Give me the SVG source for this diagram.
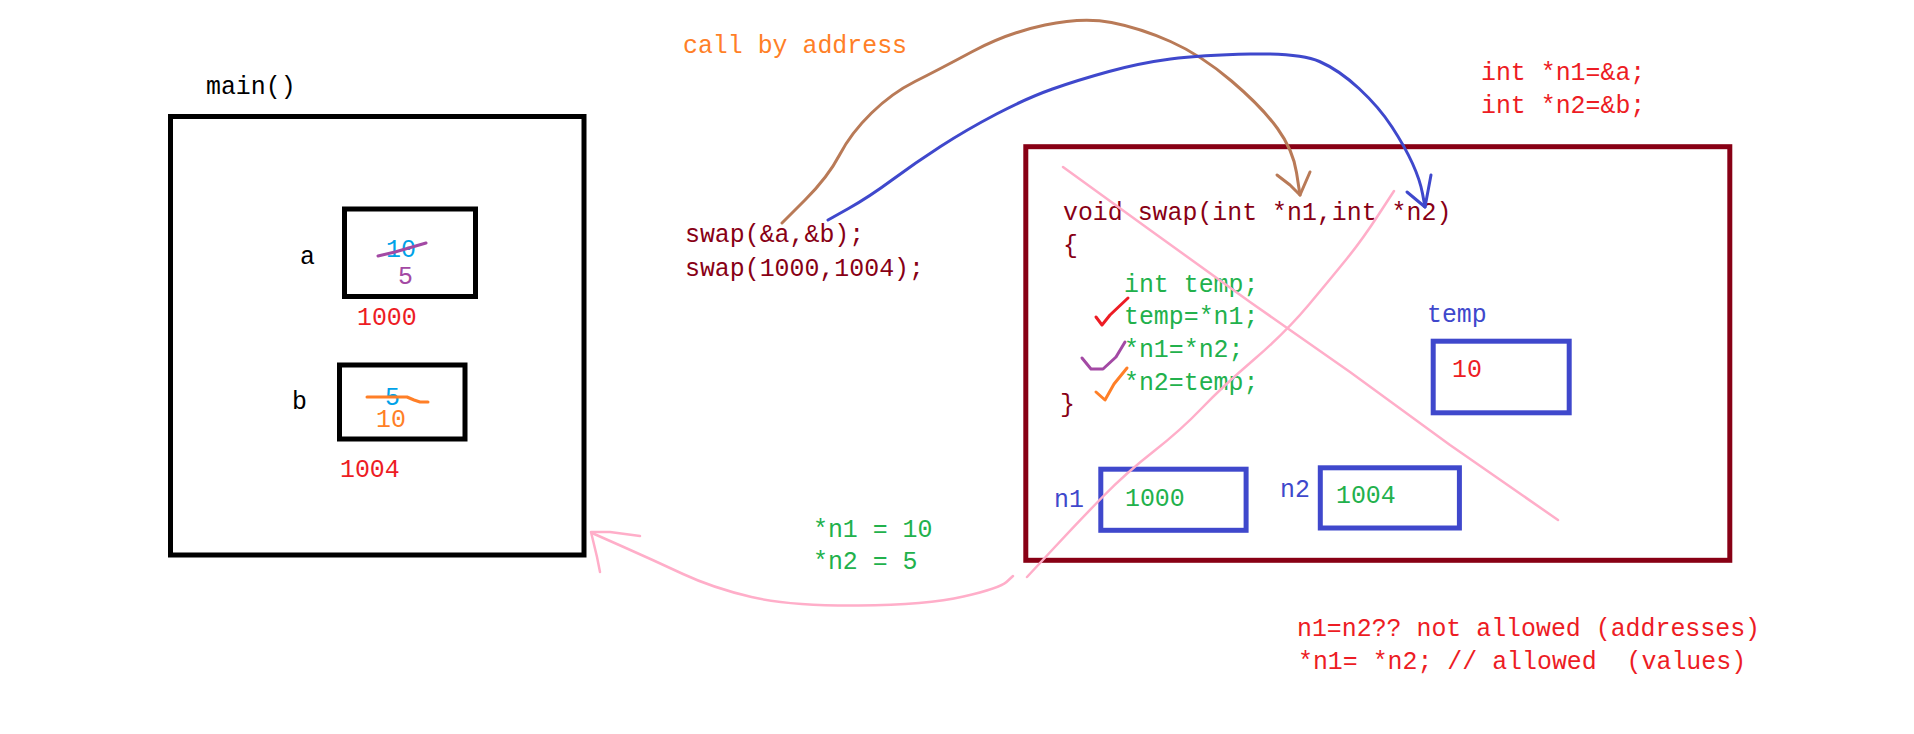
<svg xmlns="http://www.w3.org/2000/svg" width="1914" height="734" viewBox="0 0 1914 734">
<style>
text{font-family:"Liberation Mono","DejaVu Sans Mono",monospace;font-size:24.9px;white-space:pre}
.box{fill:none;stroke-width:5}
.blk{stroke:#000}
.drd{stroke:#880015}
.blu{stroke:#3f48cc}
.ink{fill:none;stroke-linecap:round;stroke-linejoin:round;stroke-width:3}
.tk{fill:#000}.tdr{fill:#880015}.tg{fill:#22b14c}.tr{fill:#ed1c24}.to{fill:#ff7f27}.tb{fill:#3f48cc}.tp{fill:#a349a4}.tc{fill:#00a2e8}
</style>
<rect width="1914" height="734" fill="#fff"/>
<g id="main">
<text x="206" y="94" class="tk">main()</text>
<rect x="170.5" y="116.5" width="413.5" height="438.5" class="box blk"/>
</g>
<g id="var-a">
<text x="300" y="264" class="tk">a</text>
<rect x="344.5" y="209" width="131" height="87.5" class="box blk"/>
<text x="386" y="257" class="tc">10</text>
<path d="M378,256 L395,252 L426,243" class="ink" stroke="#a349a4"/>
<text x="398" y="284" class="tp">5</text>
<text x="357" y="325" class="tr">1000</text>
</g>
<g id="var-b">
<text x="292" y="409" class="tk">b</text>
<rect x="339.5" y="365" width="125.5" height="74" class="box blk"/>
<text x="385" y="405" class="tc">5</text>
<path d="M367,397 L407,397 L414,400 L420,402 L428,402" class="ink" stroke="#ff7f27"/>
<text x="376" y="427" class="to">10</text>
<text x="340" y="477" class="tr">1004</text>
</g>
<g id="caller">
<text x="683" y="53" class="to">call by address</text>
<text x="685" y="242" class="tdr">swap(&amp;a,&amp;b);</text>
<text x="685" y="276" class="tdr">swap(1000,1004);</text>
</g>
<g id="pointer-note">
<text x="1481" y="80" class="tr">int *n1=&amp;a;</text>
<text x="1481" y="113" class="tr">int *n2=&amp;b;</text>
</g>
<g id="swap-func">
<rect x="1025.8" y="146.7" width="704" height="413.6" class="box drd"/>
<text x="1063" y="220" class="tdr">void swap(int *n1,int *n2)</text>
<text x="1063" y="253" class="tdr">{</text>
<text x="1124" y="292" class="tg">int temp;</text>
<text x="1124" y="324" class="tg">temp=*n1;</text>
<text x="1124" y="357" class="tg">*n1=*n2;</text>
<text x="1124" y="390" class="tg">*n2=temp;</text>
<text x="1060" y="412" class="tdr">}</text>
<path d="M1096,317 L1102,325 L1110,315 L1128,298" class="ink" stroke="#ed1c24"/>
<path d="M1082,358 L1091,369 L1103,369 L1116,357 L1125,342" class="ink" stroke="#a349a4"/>
<path d="M1096,392 L1105,400 L1114,384 L1127,368" class="ink" stroke="#ff7f27"/>
</g>
<g id="temp">
<text x="1427" y="322" class="tb">temp</text>
<rect x="1433.2" y="341.2" width="136" height="71.6" class="box blu"/>
<text x="1452" y="377" class="tr">10</text>
</g>
<g id="n1">
<text x="1054" y="507" class="tb">n1</text>
<rect x="1100.8" y="469.2" width="145.3" height="61.1" class="box blu"/>
<text x="1125" y="506" class="tg">1000</text>
</g>
<g id="n2">
<text x="1280" y="497" class="tb">n2</text>
<rect x="1320.3" y="467.8" width="139.1" height="60.2" class="box blu"/>
<text x="1336" y="503" class="tg">1004</text>
</g>
<g id="crossout" fill="none" stroke="#ffaec9" stroke-width="2.5" stroke-linecap="round" stroke-linejoin="round">
<path d="M1063,167 L1150,230 L1250,302 L1350,372 L1450,445 L1558,520"/>
<path d="M1394,191 L1378,215.5 Q1362,240 1347,258.5 Q1332,277 1309,304.5 Q1286,332 1254,359.5 Q1222,387 1201.5,408.5 Q1181,430 1153.5,451.5 Q1126,473 1103,496.5 Q1080,520 1053.5,548.5 L1027,577"/>
</g>
<g id="result">
<text x="813" y="537" class="tg">*n1 = 10</text>
<text x="813" y="569" class="tg">*n2 = 5</text>
</g>
<g id="notes">
<text x="1297" y="636" class="tr">n1=n2?? not allowed (addresses)</text>
<text x="1298" y="669" class="tr">*n1= *n2; // allowed  (values)</text>
</g>
<g id="connectors" class="ink">
<path stroke="#b97a57" d="M782,223 L805,200 Q828,177 839.5,155 Q851,133 871.5,113 Q892,93 915,81.5 Q938,70 972.5,51.5 Q1007,33 1045,25 Q1083,17 1111.5,22.5 Q1140,28 1170.5,41.5 Q1201,55 1231.5,81 Q1262,107 1277.5,128.5 Q1293,150 1296.5,172.5 L1300,195"/>
<path stroke="#b97a57" d="M1277,175 L1290,185 L1300,195 L1310,172"/>
<path stroke="#3f48cc" d="M828,220 L848.5,208.5 Q869,197 892,180 Q915,163 940.5,146.5 Q966,130 996.5,114 Q1027,98 1052.5,89 Q1078,80 1109,71.5 Q1140,63 1170.5,59 Q1201,55 1250.5,54 Q1300,53 1319.5,61.5 Q1339,70 1359,88.5 Q1379,107 1392,127 Q1405,147 1412.5,163.5 Q1420,180 1422.5,193.5 L1425,207"/>
<path stroke="#3f48cc" d="M1407,192 L1425,207 L1431,175"/>
<path stroke="#ffaec9" stroke-width="2.5" d="M1013,576 L1006.5,582 Q1000,588 963.5,596.5 Q927,605 858.5,605.5 Q790,606 751.5,597 Q713,588 683,574 Q653,560 622.5,546.5 L592,533"/>
<path stroke="#ffaec9" stroke-width="2.5" d="M640,536 L610,532 L591,532 L597,557 L600,572"/>
</g>
</svg>
